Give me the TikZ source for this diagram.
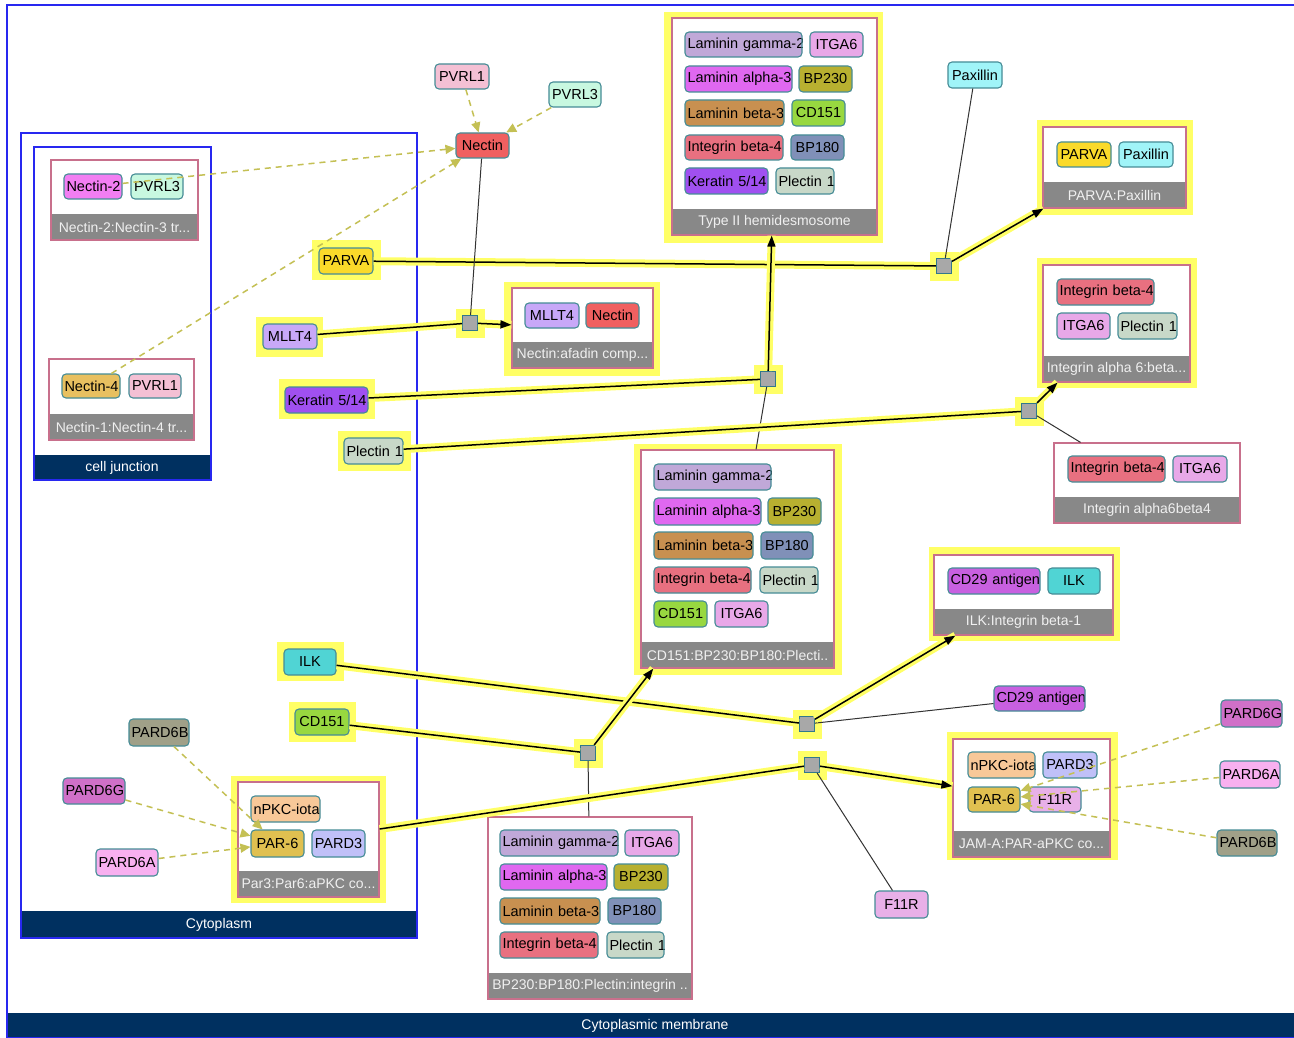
\documentclass[tikz,border=0pt]{standalone}
\usepackage{fontspec}
\setmainfont{Liberation Sans}
\usetikzlibrary{arrows.meta}
\definecolor{hly}{RGB}{255,255,102}
\definecolor{molb}{RGB}{70,140,150}
\definecolor{rxnf}{RGB}{168,168,168}
\definecolor{rxnb}{RGB}{50,120,140}
\definecolor{compb}{RGB}{40,40,240}
\definecolor{navy}{RGB}{0,48,96}
\definecolor{cplxb}{RGB}{200,112,140}
\definecolor{cplxbar}{RGB}{136,136,136}
\definecolor{dashc}{RGB}{196,192,84}
\definecolor{cNectinTwo}{RGB}{242,126,242}
\definecolor{cPVRLthree}{RGB}{200,248,224}
\definecolor{cNectinFour}{RGB}{232,192,96}
\definecolor{cPVRLone}{RGB}{244,192,212}
\definecolor{cNectin}{RGB}{240,96,96}
\definecolor{cParva}{RGB}{250,218,42}
\definecolor{cMllt}{RGB}{200,168,248}
\definecolor{cKer}{RGB}{160,80,240}
\definecolor{cPlec}{RGB}{200,216,200}
\definecolor{cLamG}{RGB}{192,168,216}
\definecolor{cItga}{RGB}{232,168,232}
\definecolor{cLamA}{RGB}{224,104,240}
\definecolor{cBPtwo}{RGB}{184,176,48}
\definecolor{cLamB}{RGB}{200,144,80}
\definecolor{cCD}{RGB}{152,216,64}
\definecolor{cIntB}{RGB}{232,112,128}
\definecolor{cBPone}{RGB}{128,144,184}
\definecolor{cPax}{RGB}{160,244,248}
\definecolor{cIlk}{RGB}{80,212,212}
\definecolor{cCDtn}{RGB}{200,96,224}
\definecolor{cFeleven}{RGB}{232,176,232}
\definecolor{cPsB}{RGB}{160,160,136}
\definecolor{cPsG}{RGB}{208,112,200}
\definecolor{cPsA}{RGB}{248,176,240}
\definecolor{cPkc}{RGB}{248,200,152}
\definecolor{cParsix}{RGB}{224,192,80}
\definecolor{cPardthree}{RGB}{192,192,248}
\newcommand\ft{\fontsize{14.5}{17}\selectfont}
\newcommand\lft{\fontsize{14}{16}\selectfont}
\tikzset{
  mol/.style={draw=molb,line width=1.1pt,rounded corners=4pt,inner sep=0pt},
  moltext/.style={inner sep=0pt,align=center,font=\ft,text=black},
  cbox/.style={draw=cplxb,fill=white,line width=1.2pt,inner sep=0pt},
  clabel/.style={inner sep=0pt,font=\lft,text=white!94!black},
  complabel/.style={inner sep=0pt,font=\lft,text=white},
  rxn/.style={draw=rxnb,fill=rxnf,line width=1.1pt,minimum size=15pt,inner sep=0pt,
    preaction={draw=hly,line width=14pt}},
  hle/.style={preaction={draw=hly,line width=8pt,-},draw=black,line width=1.5pt},
  thinline/.style={draw=black!80,line width=1pt},
  arr/.style={-{Triangle[length=11pt,width=8pt]}},
  dsh/.style={draw=dashc,line width=1.5pt,dash pattern=on 6pt off 5pt,
    -{Triangle[length=10pt,width=9pt,fill=dashc]}},
  comp/.style={draw=compb,line width=1.2pt}
}
\newcommand\mol[7]{%
\pgfmathsetmacro\molw{#4-#2}%
\pgfmathsetmacro\molh{#5-#3}%
\pgfmathsetmacro\moltw{#4-#2-5}%
\node[mol,fill=#6,minimum width=\molw pt,minimum height=\molh pt,
  path picture={\node[moltext,text width=\moltw pt] (#1-t) at (path picture bounding box.center) {\mbox{#7}};}]
  (#1) at ({(#2+#4)/2},{(#3+#5)/2}) {};}
\newcommand\cplx[6]{%
\pgfmathsetmacro\cplw{#4-#2}%
\pgfmathsetmacro\cplh{#5-#3}%
\node[cbox,minimum width=\cplw pt,minimum height=\cplh pt] (#1) at ({(#2+#4)/2},{(#3+#5)/2}) {};
\fill[cplxbar] (#2,#5-26) rectangle (#4,#5);
\node[clabel] (#1-l) at ({(#2+#4)/2},#5-13) {#6};
\draw[cplxb,line width=1.2pt] (#2,#3) rectangle (#4,#5);}
\newcommand\hlr[4]{\fill[hly] (#1,#2) rectangle (#3,#4);}
\begin{document}
\begin{tikzpicture}[x=1pt,y=-1pt]
\useasboundingbox (0,0) rectangle (1294,1038);
\fill[white] (0,0) rectangle (1294,1038);
% compartments
\fill[navy] (7,1013) rectangle (1310,1038);
\draw[comp] (7,5) rectangle (1310,1038);
\node[complabel] (membl) at (655,1026) {Cytoplasmic membrane};
\fill[navy] (21,911) rectangle (417,938);
\draw[comp] (21,133) rectangle (417,938);
\node[complabel] (cytol) at (219,925) {Cytoplasm};
\fill[navy] (34,455) rectangle (211,480);
\draw[comp] (34,147) rectangle (211,480);
\node[complabel] (cjl) at (122,468) {cell junction};
% highlights
\hlr{664}{12}{883}{243}
\hlr{1037}{120}{1193}{215}
\hlr{1037}{258}{1197}{388}
\hlr{504}{282}{660}{376}
\hlr{634}{444}{842}{675}
\hlr{929}{547}{1120}{641}
\hlr{947}{732}{1118}{860}
\hlr{231}{776}{386}{903}
\hlr{312}{240}{381}{280}
\hlr{256}{317}{323}{357}
\hlr{279}{379}{375}{419}
\hlr{338}{431}{411}{471}
\hlr{277}{642}{344}{681}
\hlr{289}{702}{356}{742}
% complexes
\cplx{nc23}{51}{160}{198}{240}{Nectin-2:Nectin-3 tr...}
\mol{n2}{64}{174}{122}{199}{cNectinTwo}{Nectin-2}
\mol{nc23p3}{131}{174}{183}{199}{cPVRLthree}{PVRL3}
\cplx{nc14}{49}{359}{194}{440}{Nectin-1:Nectin-4 tr...}
\mol{n4}{62}{374}{120}{398}{cNectinFour}{Nectin-4}
\mol{nc14p1}{129}{374}{181}{398}{cPVRLone}{PVRL1}
\cplx{t2}{672}{18}{877}{235}{Type II hemidesmosome}
\mol{t2a}{685}{32}{802}{57}{cLamG}{Laminin gamma-2}
\mol{t2b}{810}{32}{863}{57}{cItga}{ITGA6}
\mol{t2c}{685}{66}{792}{92}{cLamA}{Laminin alpha-3}
\mol{t2d}{799}{66}{852}{92}{cBPtwo}{BP230}
\mol{t2e}{685}{100}{784}{126}{cLamB}{Laminin beta-3}
\mol{t2f}{792}{100}{845}{126}{cCD}{CD151}
\mol{t2g}{685}{135}{783}{160}{cIntB}{Integrin beta-4}
\mol{t2h}{791}{135}{844}{160}{cBPone}{BP180}
\mol{t2i}{685}{168}{768}{194}{cKer}{Keratin 5/14}
\mol{t2j}{776}{168}{834}{194}{cPlec}{Plectin 1}
\cplx{pp}{1043}{127}{1186}{208}{PARVA:Paxillin}
\mol{ppa}{1057}{142}{1111}{167}{cParva}{PARVA}
\mol{ppb}{1119}{142}{1173}{167}{cPax}{Paxillin}
\cplx{iasix}{1043}{265}{1190}{382}{Integrin alpha 6:beta...}
\mol{iaa}{1057}{279}{1154}{305}{cIntB}{Integrin beta-4}
\mol{iab}{1057}{313}{1110}{339}{cItga}{ITGA6}
\mol{iac}{1118}{313}{1177}{339}{cPlec}{Plectin 1}
\cplx{iab4}{1054}{443}{1240}{523}{Integrin alpha6beta4}
\mol{ibx}{1068}{456}{1165}{482}{cIntB}{Integrin beta-4}
\mol{iby}{1173}{456}{1227}{482}{cItga}{ITGA6}
\cplx{naf}{512}{288}{653}{368}{Nectin:afadin comp...}
\mol{nafa}{525}{303}{579}{328}{cMllt}{MLLT4}
\mol{nafb}{586}{303}{639}{328}{cNectin}{Nectin}
\cplx{cdc}{641}{450}{834}{668}{CD151:BP230:BP180:Plecti..}
\mol{cda}{654}{464}{771}{490}{cLamG}{Laminin gamma-2}
\mol{cdb}{654}{498}{761}{525}{cLamA}{Laminin alpha-3}
\mol{cdc2}{768}{498}{821}{525}{cBPtwo}{BP230}
\mol{cdd}{654}{532}{753}{559}{cLamB}{Laminin beta-3}
\mol{cde}{761}{532}{813}{559}{cBPone}{BP180}
\mol{cdf}{654}{567}{751}{593}{cIntB}{Integrin beta-4}
\mol{cdg}{760}{567}{818}{593}{cPlec}{Plectin 1}
\mol{cdh}{654}{601}{707}{627}{cCD}{CD151}
\mol{cdi}{715}{601}{768}{627}{cItga}{ITGA6}
\cplx{ilkc}{934}{555}{1113}{635}{ILK:Integrin beta-1}
\mol{ilka}{948}{568}{1040}{594}{cCDtn}{CD29 antigen}
\mol{ilkb}{1048}{568}{1100}{594}{cIlk}{ILK}
\cplx{bpc}{488}{817}{692}{999}{BP230:BP180:Plectin:integrin ..}
\mol{bpa}{500}{830}{618}{856}{cLamG}{Laminin gamma-2}
\mol{bpb}{625}{830}{679}{856}{cItga}{ITGA6}
\mol{bpcc}{500}{864}{607}{890}{cLamA}{Laminin alpha-3}
\mol{bpd}{614}{864}{668}{890}{cBPtwo}{BP230}
\mol{bpe}{500}{898}{600}{924}{cLamB}{Laminin beta-3}
\mol{bpf}{608}{898}{661}{924}{cBPone}{BP180}
\mol{bpg}{500}{932}{598}{958}{cIntB}{Integrin beta-4}
\mol{bph}{607}{932}{664}{958}{cPlec}{Plectin 1}
\cplx{jam}{953}{739}{1110}{857}{JAM-A:PAR-aPKC co...}
\mol{jama}{968}{752}{1035}{778}{cPkc}{nPKC-iota}
\mol{jamb}{1043}{752}{1097}{778}{cPardthree}{PARD3}
\mol{jampar}{968}{787}{1020}{812}{cParsix}{PAR-6}
\mol{jamd}{1029}{787}{1081}{812}{cFeleven}{F11R}
\cplx{parc}{238}{782}{379}{897}{Par3:Par6:aPKC co...}
\mol{para}{251}{796}{320}{822}{cPkc}{nPKC-iota}
\mol{parpar}{251}{830}{304}{857}{cParsix}{PAR-6}
\mol{parb}{312}{830}{365}{857}{cPardthree}{PARD3}
% free molecules
\mol{pvrlone}{435}{64}{489}{89}{cPVRLone}{PVRL1}
\mol{pvrlthree}{549}{82}{601}{107}{cPVRLthree}{PVRL3}
\mol{nectin}{456}{133}{509}{158}{cNectin}{Nectin}
\mol{paxillin}{948}{62}{1002}{88}{cPax}{Paxillin}
\mol{parva}{319}{248}{373}{274}{cParva}{PARVA}
\mol{mllt}{263}{324}{317}{349}{cMllt}{MLLT4}
\mol{ker}{285}{387}{368}{413}{cKer}{Keratin 5/14}
\mol{plec}{344}{438}{403}{464}{cPlec}{Plectin 1}
\mol{ilk}{284}{649}{336}{675}{cIlk}{ILK}
\mol{cdfree}{295}{709}{349}{735}{cCD}{CD151}
\mol{cdtn}{994}{686}{1085}{711}{cCDtn}{CD29 antigen}
\mol{feleven}{875}{891}{928}{918}{cFeleven}{F11R}
\mol{psb}{129}{719}{189}{746}{cPsB}{PARD6B}
\mol{psg}{63}{778}{125}{804}{cPsG}{PARD6G}
\mol{psa}{96}{849}{158}{876}{cPsA}{PARD6A}
\mol{psgr}{1221}{700}{1282}{727}{cPsG}{PARD6G}
\mol{psar}{1220}{761}{1280}{788}{cPsA}{PARD6A}
\mol{psbr}{1217}{830}{1277}{856}{cPsB}{PARD6B}
% reactions
\node[rxn] (r1) at (470,323) {};
\node[rxn] (r2) at (944,266) {};
\node[rxn] (r3) at (768,379) {};
\node[rxn] (r4) at (1029,411) {};
\node[rxn] (r5) at (807,724) {};
\node[rxn] (r6) at (588,753) {};
\node[rxn] (r7) at (812,765) {};
% edges
\draw[hle] (parva) -- (r2);
\draw[thinline] (paxillin) -- (r2);
\draw[hle,arr] (r2) -- (pp);
\draw[hle] (mllt) -- (r1);
\draw[thinline] (nectin) -- (r1);
\draw[hle,arr] (r1) -- (naf);
\draw[hle] (ker) -- (r3);
\draw[thinline] (cdc) -- (r3);
\draw[hle,arr] (r3) -- (t2);
\draw[hle] (plec) -- (r4);
\draw[thinline] (iab4) -- (r4);
\draw[hle,arr] (r4) -- (iasix);
\draw[hle] (ilk) -- (r5);
\draw[thinline] (cdtn) -- (r5);
\draw[hle,arr] (r5) -- (ilkc);
\draw[hle] (cdfree) -- (r6);
\draw[thinline] (bpc) -- (r6);
\draw[hle,arr] (r6) -- (cdc);
\draw[hle] (parc) -- (r7);
\draw[thinline] (feleven) -- (r7);
\draw[hle,arr] (r7) -- (jam);
% dashed
\draw[dsh] (pvrlone) -- (nectin);
\draw[dsh] (pvrlthree) -- (nectin);
\draw[dsh] (n2) -- (nectin);
\draw[dsh] (n4) -- (nectin);
\draw[dsh] (psb) -- (parpar);
\draw[dsh] (psg) -- (parpar);
\draw[dsh] (psa) -- (parpar);
\draw[dsh] (psgr) -- (jampar);
\draw[dsh] (psar) -- (jampar);
\draw[dsh] (psbr) -- (jampar);
\end{tikzpicture}
\end{document}
